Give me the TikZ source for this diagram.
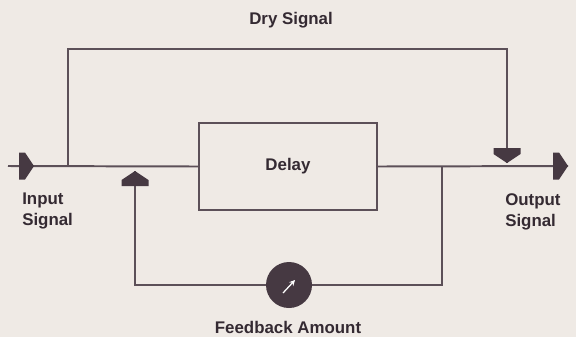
\documentclass[tikz,border=0pt]{standalone}
\usepackage{fontspec}
\setmainfont{Liberation Sans}
\usepackage{xcolor}
\definecolor{fxpaper}{RGB}{239,234,229}
\definecolor{fxline}{RGB}{92,80,88}
\definecolor{fxdark}{RGB}{70,57,66}
\definecolor{fxtext}{RGB}{52,42,50}
\usetikzlibrary{arrows.meta,positioning,calc}
\tikzset{
  sigline/.style={draw=fxline, line width=1.4pt},
  sigtext/.style={font=\bfseries\fontsize{12}{15}\selectfont, text=fxtext,
                  inner sep=0pt, align=left},
  delaybox/.style={draw=fxline, line width=1.3pt, fill=fxpaper,
                   minimum width=4.45cm, minimum height=2.175cm,
                   font=\bfseries\fontsize{12}{15}\selectfont, text=fxtext},
  knob/.style={circle, fill=fxdark, minimum size=1.15cm, inner sep=0pt},
  flowtip/.pic={
    \fill[fxdark] (0,0) -- (-9,-13.5) -- (-15,-13.5) -- (-15,13.5) -- (-9,13.5) -- cycle;
  },
}

\begin{document}
\begin{tikzpicture}[x=0.025cm, y=-0.025cm]

% paper
\fill[fxpaper] (0,0) rectangle (576,337);
\useasboundingbox (0,0) rectangle (576,337);

% points on the signal path
\coordinate (in) at (8,166);
\coordinate (split) at (68,166);
\coordinate (fbsplit) at (442,166);
\coordinate (out) at (568,166);
\coordinate (intip) at (34,166);
\coordinate (drytl) at (68,49);
\coordinate (drytr) at (507,49);
\coordinate (dryend) at (507,163);
\coordinate (fbbr) at (442,285);
\coordinate (fbbl) at (135,285);
\coordinate (fbend) at (135,171);

% delay and feedback knob
\node[delaybox] (delay) at (288,166.5) {Delay};
\node[knob] (amount) at (289,285) {};

% main path
\draw[sigline] (in) -- (delay.west);
\draw[sigline] (delay.east) -- (out);

% dry path
\draw[sigline] (split) -- (drytl) -- (drytr) -- (dryend);

% feedback loop
\draw[sigline] (fbsplit) -- (fbbr) -- (amount.east);
\draw[sigline] (amount.west) -- (fbbl) -- (fbend);
\draw[white, line width=0.9pt, -{Stealth[length=4pt,width=4pt]}]
  ([shift={(-6,8)}]amount.center) -- ([shift={(6,-5)}]amount.center);

% arrow heads
\pic at (intip) {flowtip};
\pic at (out) {flowtip};
\pic[rotate=90] at (fbend) {flowtip};
\pic[rotate=-90] at (dryend) {flowtip};

% labels
\node[sigtext, anchor=base] (drylbl) at (291,24) {Dry Signal};
\node[sigtext, anchor=north west] (inlbl) at (22,193) {Input\\Signal};
\node[sigtext, anchor=north west] (outlbl) at (505,193) {Output\\Signal};
\node[sigtext, anchor=base] (fblbl) at (288,333) {Feedback Amount};

\end{tikzpicture}
\end{document}
